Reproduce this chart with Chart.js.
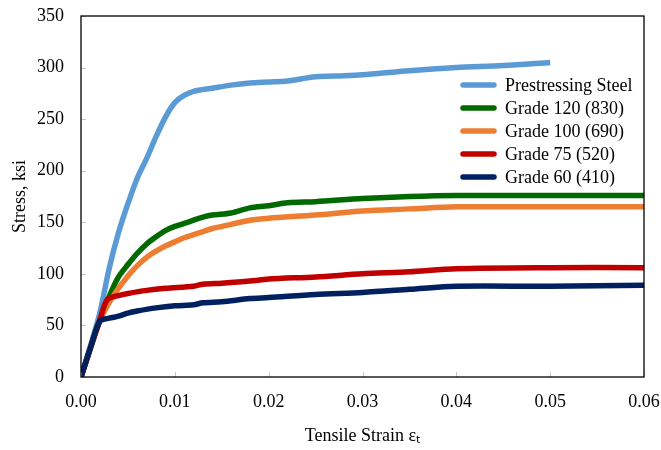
<!DOCTYPE html>
<html>
<head>
<meta charset="utf-8">
<script src="https://cdn.jsdelivr.net/npm/chart.js@4/dist/chart.umd.min.js"></script>
<style>
  body { margin: 0; background: #fff; }
  #wrap { width: 661px; height: 450px; }
</style>
</head>
<body>
<div id="wrap"><canvas id="chart1"></canvas></div>
<script>
// ---- data (strain, stress in ksi) ----
const psStrain = [0, 0.001, 0.002, 0.003, 0.004, 0.005, 0.006, 0.007, 0.008, 0.009, 0.010, 0.011, 0.012, 0.014, 0.016, 0.018, 0.020, 0.022, 0.025, 0.028, 0.030, 0.035, 0.040, 0.045, 0.050];
const psStress = [0, 30, 62, 105, 140, 168, 193, 212, 233, 252, 266, 273, 277, 280, 283, 285, 286, 287, 291, 292, 293, 297, 300, 302, 305];

const g120Strain = [0, 0.001, 0.002, 0.003, 0.004, 0.005, 0.006, 0.007, 0.008, 0.009, 0.010, 0.011, 0.012, 0.013, 0.014, 0.016, 0.018, 0.020, 0.022, 0.025, 0.030, 0.035, 0.040, 0.050, 0.060];
const g120Stress = [0, 28, 55, 78, 97, 109, 120, 129, 136, 142, 146, 149, 152, 155, 157, 159, 164, 166, 169, 170, 173, 175, 176, 176, 176];

const g100Strain = [0, 0.001, 0.002, 0.003, 0.004, 0.005, 0.006, 0.007, 0.008, 0.009, 0.010, 0.011, 0.012, 0.013, 0.014, 0.016, 0.018, 0.020, 0.025, 0.030, 0.035, 0.040, 0.050, 0.060];
const g100Stress = [0, 28, 54, 72, 86, 98, 108, 116, 122, 127, 131, 135, 138, 141, 144, 148, 152, 154, 157, 161, 163, 165, 165, 165];

const g75Strain = [0, 0.001, 0.002, 0.0028, 0.004, 0.005, 0.007, 0.009, 0.012, 0.013, 0.015, 0.018, 0.020, 0.025, 0.030, 0.035, 0.040, 0.050, 0.060];
const g75Stress = [0, 28, 55, 75, 79, 81, 84, 86, 88, 90, 91, 93, 95, 97, 100, 102, 105, 106, 106];

const g60Strain = [0, 0.001, 0.002, 0.003, 0.004, 0.005, 0.006, 0.008, 0.010, 0.012, 0.013, 0.015, 0.018, 0.020, 0.025, 0.030, 0.035, 0.040, 0.050, 0.060];
const g60Stress = [0, 28, 54, 57, 59, 62, 64, 67, 69, 70, 72, 73, 76, 77, 80, 82, 85, 88, 88, 89];

const seriesNames = ['Prestressing Steel', 'Grade 120 (830)', 'Grade 100 (690)', 'Grade 75 (520)', 'Grade 60 (410)'];
const seriesColors = ['#5b9bd5', '#006a00', '#ed7d31', '#c00000', '#002060'];
const xTicks = [0, 0.01, 0.02, 0.03, 0.04, 0.05, 0.06];
const yTicks = [0, 50, 100, 150, 200, 250, 300, 350];

const serif = '"Liberation Serif", "Times New Roman", serif';

function pts(xs, ys) {
	return xs.map((x, i) => ({ x: x, y: ys[i] }));
}

const allData = [
	pts(psStrain, psStress),
	pts(g120Strain, g120Stress),
	pts(g100Strain, g100Stress),
	pts(g75Strain, g75Stress),
	pts(g60Strain, g60Stress)
];

//====== frame, inside ticks and legend ======
const framePlugin = {
	id: 'frame',
	afterDatasetsDraw(chart) {
		const c = chart.ctx;
		const a = chart.chartArea;
		const xs = chart.scales.x, ys = chart.scales.y;
		c.save();
		// inside tick marks
		c.strokeStyle = '#c8c8c8';
		c.lineWidth = 1;
		xTicks.forEach(t => {
			const px = Math.round(xs.getPixelForValue(t)) + 0.5;
			c.beginPath(); c.moveTo(px, a.bottom); c.lineTo(px, a.bottom - 5); c.stroke();
		});
		yTicks.forEach(t => {
			const py = Math.round(ys.getPixelForValue(t)) + 0.5;
			c.beginPath(); c.moveTo(a.left, py); c.lineTo(a.left + 5, py); c.stroke();
		});
		// border box
		c.strokeStyle = '#000';
		c.lineWidth = 1.3;
		c.strokeRect(a.left, a.top, a.right - a.left, a.bottom - a.top);
		// legend
		const lx = a.right - 181, ly = a.top + 69;
		c.font = '18px ' + serif;
		c.textBaseline = 'middle';
		c.lineCap = 'round';
		seriesNames.forEach((name, i) => {
			const yy = ly + i * 23;
			c.strokeStyle = seriesColors[i];
			c.lineWidth = 5.5;
			c.beginPath(); c.moveTo(lx, yy); c.lineTo(lx + 31, yy); c.stroke();
			c.fillStyle = '#000';
			c.fillText(name, lx + 42, yy + 1);
		});
		c.restore();
	}
};

const ctx = document.getElementById('chart1').getContext('2d');
const myChart = new Chart(ctx, {
	type: 'line',
	data: {
		datasets: allData.map((d, i) => ({
			label: seriesNames[i],
			data: d,
			borderColor: seriesColors[i],
			backgroundColor: seriesColors[i],
			borderWidth: 5.5,
			pointRadius: 0,
			tension: 0.3,
			borderCapStyle: 'butt',
			order: 5 - i
		}))
	},
	options: {
		responsive: true,
		maintainAspectRatio: false,
		animation: false,
		layout: { padding: { left: 0, right: 17, top: 16, bottom: 0 } },
		plugins: {
			legend: { display: false },
			tooltip: { enabled: false }
		},
		scales: {
			x: {
				type: 'linear',
				min: 0,
				max: 0.06,
				afterBuildTicks: s => { s.ticks = xTicks.map(v => ({ value: v })); },
				afterFit: s => { s.height = 73; s.paddingLeft = 0; s.paddingRight = 0; },
				grid: { display: false },
				border: { display: false },
				ticks: {
					color: '#000',
					padding: 6,
					maxRotation: 0,
					font: { family: serif, size: 18 },
					callback: v => v.toFixed(2)
				},
				title: {
					display: true,
					text: 'Tensile Strain \u03b5\u209c',
					color: '#000',
					padding: { top: 2, bottom: 3 },
					font: { family: serif, size: 18 }
				}
			},
			y: {
				min: 0,
				max: 350,
				afterBuildTicks: s => { s.ticks = yTicks.map(v => ({ value: v })); },
				afterFit: s => { s.width = 81; s.paddingTop = 0; s.paddingBottom = 0; },
				grid: { display: false },
				border: { display: false },
				ticks: {
					color: '#000',
					padding: 9,
					font: { family: serif, size: 18 }
				},
				title: {
					display: true,
					text: 'Stress, ksi',
					color: '#000',
					padding: { top: 9, bottom: 0 },
					font: { family: serif, size: 18 }
				}
			}
		}
	},
	plugins: [framePlugin]
});
</script>
</body>
</html>
